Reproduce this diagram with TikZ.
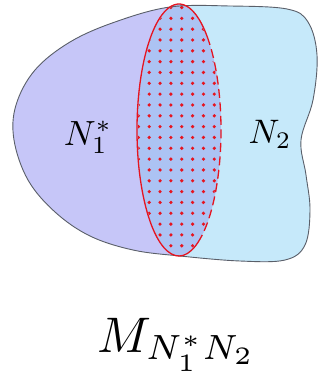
\documentclass[tikz,border=0pt]{standalone}
\definecolor{purp}{RGB}{198,198,248}
\definecolor{blu}{RGB}{198,233,250}
\definecolor{ovl}{RGB}{172,195,243}
\definecolor{dotred}{RGB}{230,20,32}
\definecolor{edge}{RGB}{90,95,105}
\tikzset{
  outline/.style={draw=edge, line width=0.9pt},
  redsolid/.style={draw=dotred, line width=1.3pt},
  reddash/.style={draw=dotred, line width=1.3pt, dash pattern=on 9pt off 4.5pt},
  lbl/.style={inner sep=0pt, anchor=base},
}
\newcommand\outerpath{plot[smooth cycle, tension=0.6] coordinates {
 (170,7) (230,6) (287,9) (308,22) (317,55) (313,100) (301,140) (306,175)
 (310,210) (305,245) (285,260) (240,261) (180,256) (133,250) (90,236)
 (55,212) (28,180) (14,140) (16,105) (35,70) (70,42) (115,22)}}
\begin{document}
\begin{tikzpicture}[x=1pt,y=-1pt]
\useasboundingbox (0,0) rectangle (322,375);
\coordinate (C) at (179,130);
\begin{scope}
  \clip \outerpath;
  \fill[purp] (-10,-10) rectangle (340,300);
  \fill[blu] (179,4) -- (179,-50) -- (400,-50) -- (400,400) -- (179,400) -- (179,256)
     arc[start angle=90, end angle=-90, x radius=42, y radius=126] -- cycle;
\end{scope}
\fill[ovl] (C) ellipse [x radius=42, y radius=126];
\begin{scope}
  \clip (C) ellipse [x radius=41, y radius=125];
  \foreach \i in {0,...,9}
    \foreach \j in {0,...,23}
      \fill[dotred] (127.5+\i*10.85, 7.5+\j*10.83) circle[radius=1.8];
\end{scope}
\draw[outline] \outerpath;
\draw[redsolid] (C) ++(61:42 and 126) arc[start angle=61, end angle=312, x radius=42, y radius=126];
\draw[reddash] (C) ++(-48:42 and 126) arc[start angle=-48, end angle=61, x radius=42, y radius=126];
\node[lbl, scale=3.5] (n1) at (88,145) {$N_1^*$};
\node[lbl, scale=3.4] (n2) at (270,143) {$N_2$};
\node[lbl, scale=5] (m) at (177,352) {$M_{N_1^*N_2}$};
\end{tikzpicture}
\end{document}
